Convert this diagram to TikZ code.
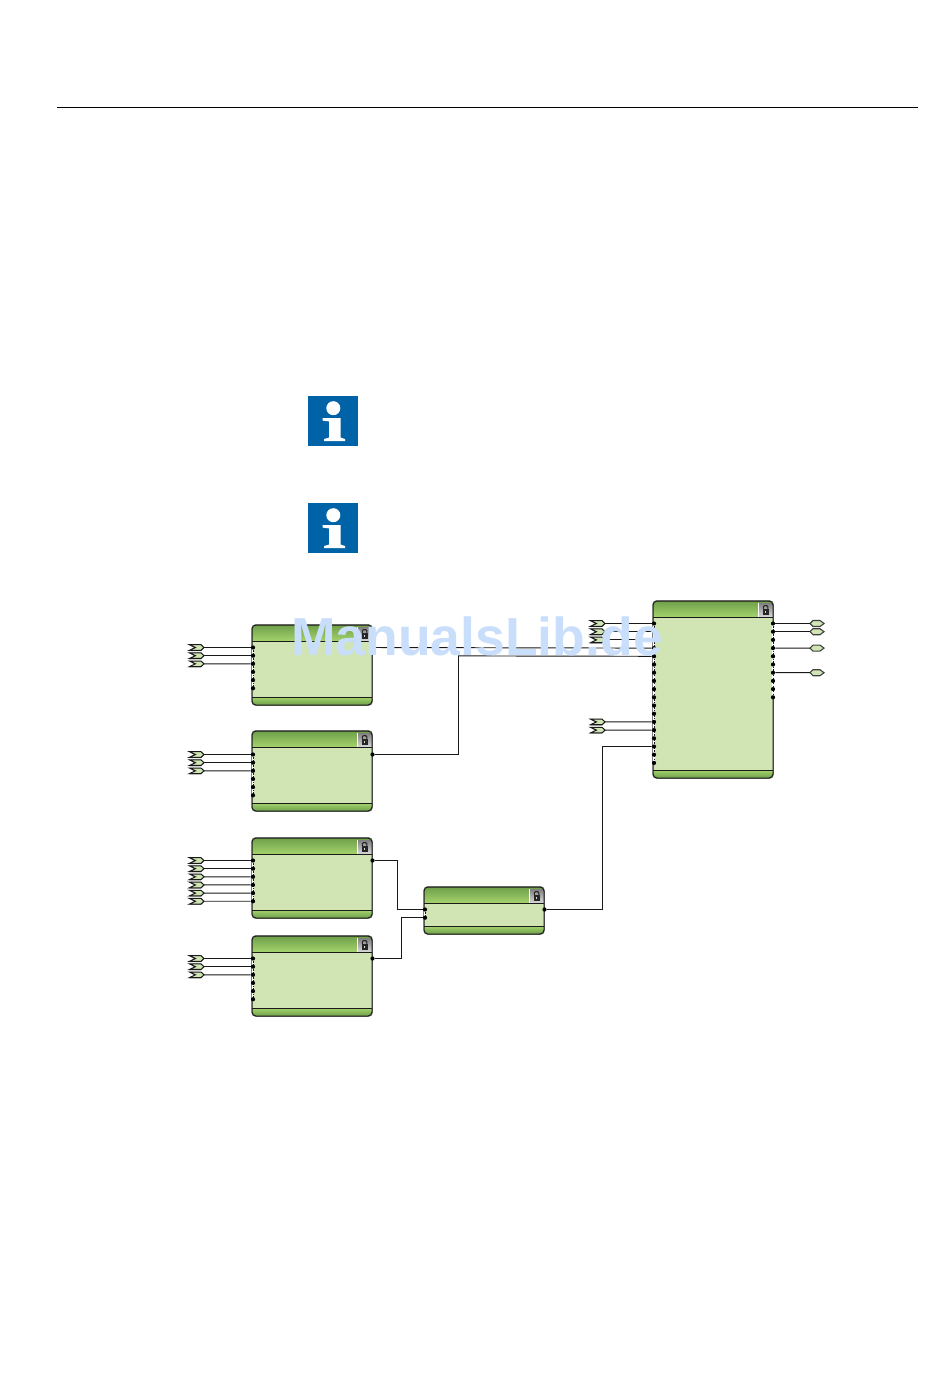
\documentclass[tikz,border=0pt]{standalone}
\usepackage{fontspec}
\setmainfont{Liberation Sans}
\usetikzlibrary{calc}
\definecolor{fbbody}{HTML}{D0E4B4}
\definecolor{fbtop}{HTML}{A4D26C}
\definecolor{fbdark}{HTML}{6FA04A}
\definecolor{fbline}{HTML}{1A1A1A}
\definecolor{abbblue}{HTML}{0063A8}
\definecolor{wmark}{HTML}{C9DEFA}
\tikzset{
  x=1pt,y=-1pt,
  wire/.style={draw=fbline,line width=0.95pt},
  portdot/.style={circle,fill=black,inner sep=0pt,minimum size=4.2pt},
  topgrad/.style={top color=fbdark,bottom color=fbtop},
  botgrad/.style={top color=fbtop,bottom color=fbdark},
}
% block: name, x1, y1, x2, y2
\newcommand{\fblock}[5]{%
  \fill[black!45,rounded corners=4pt] (#2-0.6,#3-0.8) rectangle (#4+0.8,#5+0.8);
  \path[rounded corners=4pt,fill=fbbody] (#2,#3) rectangle (#4,#5);
  \begin{scope}
    \clip[rounded corners=4pt] (#2,#3) rectangle (#4,#5);
    \shade[topgrad] (#2,#3) rectangle (#4,#3+16);
    \shade[botgrad] (#2,#5-8) rectangle (#4,#5);
    \shade[top color=black!50,bottom color=black!15] (#4-15,#3+2) rectangle (#4,#3+16);
    \fill[white] (#4-15,#3+2) rectangle (#4-14.3,#3+16);
    \draw[fbline,line width=1pt] (#2,#3+16) -- (#4,#3+16);
    \draw[fbline,line width=1pt] (#2,#5-8) -- (#4,#5-8);
  \end{scope}
  \draw[fbline,line width=1pt,rounded corners=4pt] (#2,#3) rectangle (#4,#5);
  \node[inner sep=0pt,minimum size=0pt] (#1) at ({(#2+#4)/2},{(#3+#5)/2}) {};
  % lock
  \fill[black!85] (#4-10.4,#3+8.2) rectangle (#4-4.4,#3+13.8);
  \draw[black!85,line width=1.1pt] (#4-9.6,#3+8.2) -- (#4-9.6,#3+5.8) -- (#4-8.4,#3+4.6) -- (#4-6.4,#3+4.6) -- (#4-5.2,#3+5.8) -- (#4-5.2,#3+8.2);
  \fill[black!15] (#4-7.9,#3+10) rectangle (#4-6.9,#3+12.2);
}
% ports: prefix, x, first y, step, count
\newcommand{\fports}[5]{%
  \draw[white,line width=2.6pt] (#2,#3-1.5) -- (#2,{#3+(#5-1)*#4+1.5});
  \draw[fbline,line width=1pt,dash pattern=on 1.4pt off 1.3pt] (#2,#3) -- (#2,{#3+(#5-1)*#4});
  \foreach \i in {1,...,#5} {
    \node[portdot] (#1\i) at (#2,{#3+(\i-1)*#4}) {};
  }
}
% input tag: name, right x, y
\newcommand{\intag}[3]{%
  \fill[black!50] (#2-15,#3-3) -- (#2-3,#3-3) -- (#2,#3+0.6) -- (#2-3,#3+3.6) -- (#2-15,#3+3.6) -- (#2-10,#3+0.4) -- cycle;
  \draw[fbline,line width=1pt,fill=fbbody] (#2-14.5,#3-2.8) -- (#2-3,#3-2.8) -- (#2,#3) -- (#2-3,#3+2.8) -- (#2-14.5,#3+2.8) -- (#2-8.5,#3) -- cycle;
  \node[inner sep=0pt,minimum size=0pt] (#1) at (#2,#3) {};
}
% output tag: name, left x, y
\newcommand{\outtag}[3]{%
  \draw[black!75,line width=1.1pt,fill=fbbody] (#2,#3) -- (#2+3,#3-3) -- (#2+10,#3-3) -- (#2+14,#3) -- (#2+10,#3+3) -- (#2+3,#3+3) -- cycle;
  \node[inner sep=0pt,minimum size=0pt] (#1) at (#2,#3) {};
}
% info icon
\newcommand{\infoicon}[3]{%
  \node[fill=abbblue,minimum size=50pt,inner sep=0pt] (#1) at (#2+25,#3+25) {};
  \fill[white] (#2+25.3,#3+12.2) circle (7);
  \fill[white] (#2+14.5,#3+22) -- (#2+32.7,#3+22) -- (#2+32.7,#3+41.6) -- (#2+37,#3+43) -- (#2+37,#3+45) -- (#2+16,#3+45) -- (#2+16,#3+43) -- (#2+21,#3+41.6) -- (#2+21,#3+25.4) -- (#2+14.5,#3+24.6) -- cycle;
}
\begin{document}
\begin{tikzpicture}
\useasboundingbox[fill=white] (0,0) rectangle (950,1378);
\coordinate (rulea) at (57,107.5);
\coordinate (ruleb) at (917.5,107.5);
\draw[black,line width=0.7pt] (rulea) -- (ruleb);

\infoicon{infoa}{308}{396}
\infoicon{infob}{308}{503}

\fblock{ba}{252}{625}{372}{705}
\fblock{bb}{252}{731}{372}{811}
\fblock{bc}{252}{838}{372}{918}
\fblock{bd}{252}{936}{372}{1016}
\fblock{be}{424}{887}{544}{934}
\fblock{bf}{653}{601}{773}{778}

\fports{al}{253}{647.5}{8.15}{6}
\fports{bl}{253}{754.5}{8.15}{6}
\fports{cl}{253}{860.5}{8.15}{6}
\fports{dl}{253}{958.5}{8.15}{6}
\fports{el}{425}{909.5}{8.2}{2}
\fports{fl}{654}{623.5}{8.2}{18}
\fports{fr}{773}{623.5}{8.2}{10}
\fports{ar}{372.5}{647.5}{8}{1}
\fports{br}{372.5}{754.5}{8}{1}
\fports{cr}{372.5}{860.5}{8}{1}
\fports{dr}{372.5}{958.5}{8}{1}
\fports{er}{544.5}{909.5}{8}{1}

\intag{ia1}{204}{647.5}\intag{ia2}{204}{655.65}\intag{ia3}{204}{663.8}
\intag{ib1}{204}{754.5}\intag{ib2}{204}{762.65}\intag{ib3}{204}{770.8}
\intag{ic1}{204}{860.5}\intag{ic2}{204}{868.65}\intag{ic3}{204}{876.8}\intag{ic4}{204}{884.95}\intag{ic5}{204}{893.1}\intag{ic6}{204}{901.25}
\intag{id1}{204}{958.5}\intag{id2}{204}{966.65}\intag{id3}{204}{974.8}
\intag{if1}{605}{623.5}\intag{if2}{605}{631.7}\intag{if3}{605}{639.9}
\intag{if4}{605}{721.9}\intag{if5}{605}{730.1}

\outtag{oa}{810}{623.5}\outtag{ob}{810}{631.7}\outtag{oc}{810}{648.1}\outtag{od}{810}{672.7}

\foreach \n in {1,2,3} {\draw[wire] (ia\n) -- (al\n); \draw[wire] (ib\n) -- (bl\n); \draw[wire] (id\n) -- (dl\n);}
\foreach \n in {1,...,6} {\draw[wire] (ic\n) -- (cl\n);}
\draw[wire] (if1) -- (fl1);
\draw[wire] (if2) -- (fl2);
\draw[wire] (if3) -- (fl3);
\draw[wire] (if4) -- (fl13);
\draw[wire] (if5) -- (fl14);
\draw[wire] (fr1) -- (oa);
\draw[wire] (fr2) -- (ob);
\draw[wire] (fr4) -- (oc);
\draw[wire] (fr7) -- (od);
\draw[wire] (ar1) -- (fl4);
\draw[wire] (br1) -| (458.5,655.9) -- (fl5);
\draw[wire] (cr1) -| (397.5,909.5) -- (el1);
\draw[wire] (dr1) -| (401.5,917.7) -- (el2);
\draw[wire] (er1) -| (602.5,746.5) -- (fl16);

\node[text=wmark,font=\bfseries\fontsize{53.5}{54}\selectfont,inner sep=0pt,anchor=base west] (wm) at (291,655.5) {ManualsLib.de};
\end{tikzpicture}
\end{document}
